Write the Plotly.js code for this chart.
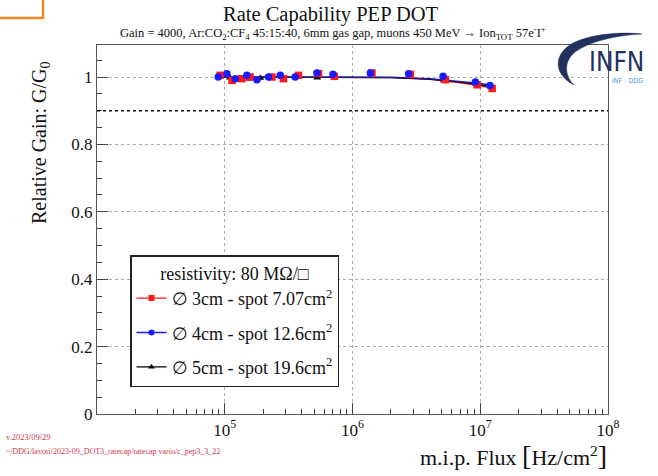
<!DOCTYPE html>
<html>
<head>
<meta charset="utf-8">
<script src="https://cdn.plot.ly/plotly-3.0.1.min.js"></script>
<style>html,body{margin:0;padding:0;background:#fff;}#chart{width:658px;height:476px;}</style>
</head>
<body>
<div id="chart"></div>
<script>
// ---- data ----
const redFlux  = [9.2e4, 1.14e5, 1.36e5, 1.58e5, 2.34e5, 2.88e5, 3.78e5, 5.42e5, 7.2e5, 1.42e6, 2.84e6, 5.34e6, 9.46e6, 1.24e7];
const redGain  = [1.005, 0.990, 0.995, 1.000, 1.000, 0.995, 1.005, 1.010, 1.002, 1.012, 1.008, 0.992, 0.977, 0.966];
const blueFlux = [8.9e4, 1.04e5, 1.21e5, 1.49e5, 1.79e5, 2.2e5, 2.72e5, 3.56e5, 5.27e5, 7.03e5, 1.38e6, 2.75e6, 5.12e6, 9.16e6, 1.19e7];
const blueGain = [1.000, 1.010, 0.995, 1.005, 0.992, 1.000, 1.005, 1.000, 1.012, 1.008, 1.012, 1.010, 1.002, 0.985, 0.975];
const blackFlux = [9.0e4, 1.1e5, 1.3e5, 1.55e5, 1.9e5, 2.3e5, 2.8e5, 3.7e5, 5.3e5, 7.1e5, 1.4e6, 2.8e6, 5.2e6, 9.3e6, 1.22e7];
const blackGain = [1.000, 0.998, 0.993, 0.995, 0.997, 0.998, 1.000, 1.002, 0.998, 1.003, 1.008, 1.005, 0.990, 0.980, 0.970];
// fitted curves as they appear in the picture
const fitFlux     = [9e4, 3e5, 1e6, 2e6, 4e6, 7e6, 1e7, 1.25e7];
const redFitGain  = [1.000, 1.000, 1.000, 0.998, 0.993, 0.983, 0.974, 0.966];
const blueFitGain = [1.000, 1.000, 1.000, 0.999, 0.995, 0.987, 0.981, 0.975];
const blackFitGain= [1.000, 1.000, 1.000, 0.998, 0.994, 0.985, 0.977, 0.970];
const threshold = 0.9;
const seriesNames = ["∅ 3cm - spot 7.07cm<sup>2</sup>", "∅ 4cm - spot 12.6cm<sup>2</sup>", "∅ 5cm - spot 19.6cm<sup>2</sup>"];
const xTickVals = [1e5, 1e6, 1e7, 1e8];
const xTickText = ["10<sup>5</sup>", "10<sup>6</sup>", "10<sup>7</sup>", "10<sup>8</sup>"];
const yTickVals = [0, 0.2, 0.4, 0.6, 0.8, 1];
const yTickText = ["0", "0.2", "0.4", "0.6", "0.8", "1"];

// ---- layout helpers ----
const W = 658, H = 476, L = 97, R = 608, T = 45, B = 414;
const px = x => (x - L) / (R - L);
const py = y => (B - y) / (B - T);
const serif = "Liberation Serif, Times New Roman, serif";

const minorX = [];
for (let e = 4; e < 8; e++) for (let d = 2; d <= 9; d++) minorX.push(d * Math.pow(10, e));

const RED = "#ff1a1a", BLUE = "#1a1aff", BLACK = "#000000";

const traces = [
  // fit lines
  {x: fitFlux, y: redFitGain, mode: "lines", line: {color: RED, width: 1.3}, showlegend: false, hoverinfo: "skip"},
  {x: fitFlux, y: blackFitGain, mode: "lines", line: {color: BLACK, width: 1.3}, showlegend: false, hoverinfo: "skip"},
  {x: fitFlux, y: blueFitGain, mode: "lines", line: {color: "#1a1a9a", width: 1.5}, showlegend: false, hoverinfo: "skip"},
  // data points
  {x: blackFlux, y: blackGain, mode: "markers", marker: {symbol: "triangle-up", size: 7, color: BLACK}, showlegend: false},
  {x: redFlux, y: redGain, mode: "markers", marker: {symbol: "square", size: 7.5, color: RED}, showlegend: false},
  {x: blueFlux, y: blueGain, mode: "markers", marker: {symbol: "circle", size: 7.5, color: BLUE}, showlegend: false},
  // legend entries
  {x: [null], y: [null], name: seriesNames[0], mode: "lines+markers", line: {color: RED, width: 1.3}, marker: {symbol: "square", size: 6, color: RED}, legendgroup: "a"},
  {x: [null], y: [null], name: seriesNames[1], mode: "lines+markers", line: {color: BLUE, width: 1.3}, marker: {symbol: "circle", size: 6, color: BLUE}, legendgroup: "b"},
  {x: [null], y: [null], name: seriesNames[2], mode: "lines+markers", line: {color: BLACK, width: 1.3}, marker: {symbol: "triangle-up", size: 6, color: BLACK}, legendgroup: "c"}
];

const axisCommon = {
  ticks: "inside", ticklen: 11, tickwidth: 1, tickcolor: "#444",
  showline: true, linecolor: "#555", linewidth: 1.2, mirror: true,
  showgrid: true, gridcolor: "#a8a8a8", griddash: "dot", gridwidth: 1,
  zeroline: false, tickfont: {family: serif, size: 17, color: "#111"}
};

const layout = {
  width: W, height: H,
  margin: {l: L, r: W - R, t: T, b: H - B},
  paper_bgcolor: "#fff", plot_bgcolor: "#fff",
  showlegend: true,
  xaxis: Object.assign({}, axisCommon, {
    type: "log", range: [4, 8], tickmode: "array", tickvals: xTickVals, ticktext: xTickText,
    minor: {tickmode: "array", tickvals: minorX, ticks: "inside", ticklen: 5, tickcolor: "#444", showgrid: false}
  }),
  yaxis: Object.assign({}, axisCommon, {
    range: [0, 1.095], tickmode: "array", tickvals: yTickVals, ticktext: yTickText,
    minor: {dtick: 0.05, tick0: 0, ticks: "inside", ticklen: 5, tickcolor: "#444", showgrid: false}
  }),
  legend: {
    x: px(130), y: py(255), xanchor: "left", yanchor: "top",
    bgcolor: "#fff", bordercolor: "#222", borderwidth: 1.5,
    font: {family: serif, size: 18, color: "#111"},
    title: {text: "resistivity: 80 MΩ/□", side: "top center", font: {family: serif, size: 18, color: "#111"}},
    traceorder: "grouped", tracegroupgap: 8
  },
  shapes: [
    {type: "line", xref: "paper", x0: 0, x1: 1, yref: "y", y0: threshold, y1: threshold,
     line: {color: "#111", width: 1.5, dash: "dot"}},
    // orange corner box
    {type: "path", xref: "paper", yref: "paper",
     path: `M ${px(-2)} ${py(18)} L ${px(43)} ${py(18)} L ${px(43)} ${py(-2)}`,
     line: {color: "#f08a24", width: 2.5}},
    // INFN crescent
    {type: "path", xref: "paper", yref: "paper", fillcolor: "#22325f", line: {color: "#22325f", width: 0.5},
     path: `M ${px(574)} ${py(85)} C ${px(552)} ${py(74)} ${px(552)} ${py(50)} ${px(580)} ${py(40)} ` +
           `C ${px(600)} ${py(33)} ${px(625)} ${py(32)} ${px(642)} ${py(34)} ` +
           `C ${px(620)} ${py(35)} ${px(592)} ${py(40)} ${px(575)} ${py(52)} ` +
           `C ${px(563)} ${py(62)} ${px(565)} ${py(76)} ${px(574)} ${py(85)} Z`}
  ],
  annotations: [
    {text: "Rate Capability PEP DOT", xref: "paper", yref: "paper", x: px(331), y: py(14), xanchor: "center", yanchor: "middle",
     showarrow: false, font: {family: serif, size: 20.5, color: "#111"}},
    {text: "Gain = 4000, Ar:CO<sub>2</sub>:CF<sub>4</sub> 45:15:40, 6mm gas gap, muons 450 MeV → Ion<sub>TOT</sub> 57e<sup>-</sup>I<sup>+</sup>",
     xref: "paper", yref: "paper", x: px(333), y: py(33), xanchor: "center", yanchor: "middle",
     showarrow: false, font: {family: serif, size: 12.5, color: "#111"}},
    {text: "Relative Gain: G/G<sub>0</sub>", xref: "paper", yref: "paper", x: px(40), y: py(143), xanchor: "center", yanchor: "middle",
     textangle: -90, showarrow: false, font: {family: serif, size: 20, color: "#111"}},
    {text: "m.i.p. Flux <span style='font-size:28px'>[</span>Hz/cm<sup>2</sup><span style='font-size:28px'>]</span>",
     xref: "paper", yref: "paper", x: px(609), y: py(455), xanchor: "right", yanchor: "middle",
     showarrow: false, font: {family: serif, size: 22, color: "#111"}},
    {text: "v.2023/09/29", xref: "paper", yref: "paper", x: px(4), y: py(437), xanchor: "left", yanchor: "middle",
     showarrow: false, font: {family: serif, size: 8.5, color: "#d0354a"}},
    {text: "~/DDG/lavori/2023-09_DOT3_ratecap/ratecap vario/c_pep3_3_22", xref: "paper", yref: "paper", x: px(4), y: py(452), xanchor: "left", yanchor: "middle",
     showarrow: false, font: {family: serif, size: 8, color: "#d0354a"}},
    {text: "INFN", xref: "paper", yref: "paper", x: px(616), y: py(62), xanchor: "center", yanchor: "middle",
     showarrow: false, font: {family: "DejaVu Sans Condensed, DejaVu Sans, sans-serif", size: 26, color: "#22325f"}},
    {text: "INF - DDG", xref: "paper", yref: "paper", x: px(627), y: py(81), xanchor: "center", yanchor: "middle",
     showarrow: false, font: {family: "DejaVu Sans Condensed, DejaVu Sans, sans-serif", size: 7, color: "#4a9cc8"}}
  ]
};

Plotly.newPlot("chart", traces, layout, {displayModeBar: false, staticPlot: true});
</script>
</body>
</html>
